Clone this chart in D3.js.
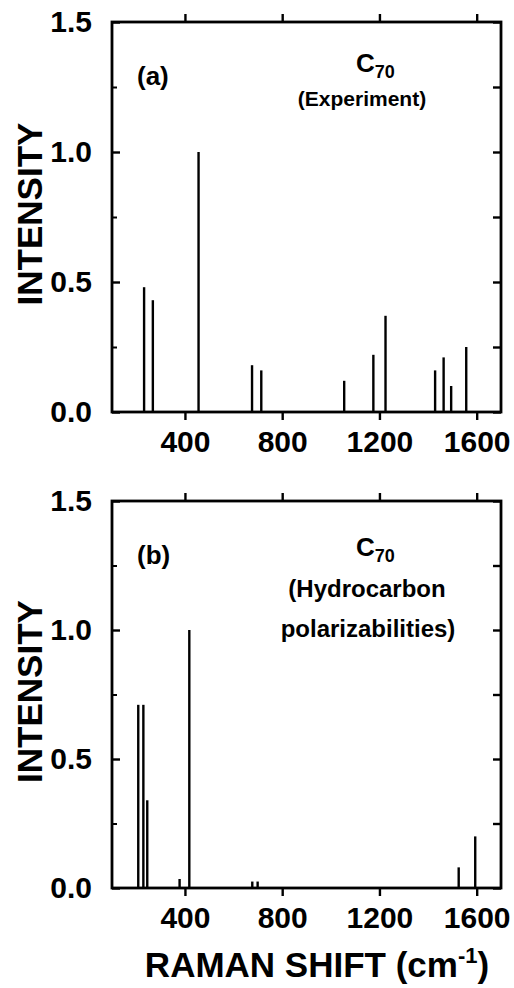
<!DOCTYPE html>
<html>
<head>
<meta charset="utf-8">
<script src="https://cdn.jsdelivr.net/npm/d3@7"></script>
<style>
  body { margin: 0; background: #fff; }
  text { font-family: "Liberation Sans", Arial, Helvetica, sans-serif; font-weight: bold; fill: #000; }
</style>
</head>
<body>
<div id="img"></div>
<script>
// tick labels
const xTicks = [400, 800, 1200, 1600];
const yTicks = [0, 0.5, 1.0, 1.5];
const yMinor = [0.25, 0.75, 1.25];

// (a) experiment
const expShift = [232, 268, 456, 676, 714, 1055, 1175, 1225, 1429, 1464, 1495, 1557];
const expInt   = [0.48, 0.43, 1.0, 0.18, 0.16, 0.12, 0.22, 0.37, 0.16, 0.21, 0.10, 0.25];

// (b) hydrocarbon polarizabilities
const calcShift = [208, 229, 245, 378, 418, 677, 699, 1526, 1594];
const calcInt   = [0.71, 0.71, 0.34, 0.035, 1.0, 0.025, 0.025, 0.08, 0.20];

const W = 514, H = 988;
const left = 112, right = 501;

var svg = d3.select("#img").append("svg")
    .attr("width", W)
    .attr("height", H);

var x = d3.scaleLinear().domain([100, 1700]).range([left, right]);

function drawPanel(top, bottom, shifts, ints, tag, labels) {
    var y = d3.scaleLinear().domain([0, 1.5]).range([bottom, top]);
    var g = svg.append("g");

    // x ticks, outward, top and bottom
    g.append("g").attr("transform", "translate(0," + bottom + ")")
        .call(d3.axisBottom(x).tickValues(xTicks).tickSize(8).tickPadding(11).tickFormat(d3.format("d")))
        .call(a => a.select(".domain").remove())
        .call(a => a.selectAll("line").attr("stroke-width", 2.4))
        .call(a => a.selectAll("text").attr("font-size", 30).attr("font-family", null).attr("dy", "0.71em"));
    g.append("g").attr("transform", "translate(0," + top + ")")
        .call(d3.axisTop(x).tickValues(xTicks).tickSize(8).tickFormat(""))
        .call(a => a.select(".domain").remove())
        .call(a => a.selectAll("line").attr("stroke-width", 2.4));

    // y ticks, inward, left and right
    g.append("g").attr("transform", "translate(" + left + ",0)")
        .call(d3.axisLeft(y).tickValues(yTicks).tickSize(-8).tickPadding(20).tickFormat(d3.format(".1f")))
        .call(a => a.select(".domain").remove())
        .call(a => a.selectAll("line").attr("stroke-width", 2.4))
        .call(a => a.selectAll("text").attr("font-size", 30).attr("font-family", null));
    g.append("g").attr("transform", "translate(" + left + ",0)")
        .call(d3.axisLeft(y).tickValues(yMinor).tickSize(-5).tickFormat(""))
        .call(a => a.select(".domain").remove())
        .call(a => a.selectAll("line").attr("stroke-width", 2));
    g.append("g").attr("transform", "translate(" + right + ",0)")
        .call(d3.axisRight(y).tickValues(yTicks.concat(yMinor)).tickSize(-8).tickFormat(""))
        .call(a => a.select(".domain").remove())
        .call(a => a.selectAll("line").attr("stroke-width", 2.4));

    // frame
    g.append("rect")
        .attr("x", left).attr("y", top)
        .attr("width", right - left).attr("height", bottom - top)
        .attr("fill", "none").attr("stroke", "#000").attr("stroke-width", 2.8);

    // peaks
    g.selectAll(".peak")
        .data(shifts.map((s, i) => ({s: s, v: ints[i]})))
        .enter().append("line")
        .attr("class", "peak")
        .attr("x1", d => x(d.s)).attr("x2", d => x(d.s))
        .attr("y1", y(0)).attr("y2", d => y(d.v))
        .attr("stroke", "#000").attr("stroke-width", 2.4);

    // y title
    g.append("text")
        .attr("transform", "translate(42," + ((top + bottom) / 2 - 3) + ") rotate(-90)")
        .attr("text-anchor", "middle")
        .attr("font-size", 35)
        .text("INTENSITY");

    // panel tag
    g.append("text").attr("x", 137).attr("y", top + 63)
        .attr("font-size", 26).text(tag);

    // C70
    var c = labels.c;
    var ct = g.append("text").attr("x", 356).attr("y", top + c).attr("font-size", 26);
    ct.append("tspan").text("C");
    ct.append("tspan").attr("font-size", 18).attr("dy", 6).text("70");

    labels.lines.forEach(function(l) {
        g.append("text").attr("x", l.x).attr("y", top + l.dy)
            .attr("text-anchor", "middle").attr("font-size", l.size).text(l.t);
    });
}

drawPanel(22, 412, expShift, expInt, "(a)",
    {c: 50, lines: [{t: "(Experiment)", x: 362, dy: 84, size: 21}]});
drawPanel(501, 888, calcShift, calcInt, "(b)",
    {c: 55, lines: [{t: "(Hydrocarbon", x: 367, dy: 96, size: 24},
                    {t: "polarizabilities)", x: 368, dy: 136, size: 24}]});

// x title
var xt = svg.append("text").attr("x", 317).attr("y", 977)
    .attr("text-anchor", "middle").attr("font-size", 35);
xt.append("tspan").text("RAMAN SHIFT (cm");
xt.append("tspan").attr("font-size", 22).attr("dy", -14).text("-1");
xt.append("tspan").attr("dy", 14).text(")");
</script>
</body>
</html>
